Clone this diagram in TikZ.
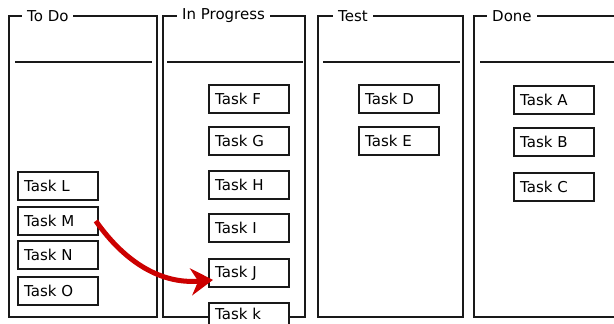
\documentclass[tikz,border=0pt]{standalone}
\usepackage{fontspec}
\setmainfont{DejaVu Sans}
\usetikzlibrary{arrows.meta}
\definecolor{arrowred}{RGB}{204,0,0}
\tikzset{
  frame/.style={draw=black!90, line width=1.8pt},
  divider/.style={draw=black!90, line width=1.8pt},
  colhead/.style={fill=white, inner xsep=5pt, inner ysep=2pt, font=\fontsize{15}{17}\selectfont, anchor=west},
  task/.style={draw=black!90, line width=1.8pt, minimum width=80pt, minimum height=28pt, anchor=north west},
  taskin/.style={anchor=west, inner sep=0pt, font=\fontsize{15}{17}\selectfont},
  move/.style={draw=arrowred, line width=5pt, -{Stealth[length=22pt,width=27pt]}}
}
\newcommand{\tasknode}[4]{% name, x, y, text
  \node[task] (#1) at (#2,#3) {};
  \node[taskin] (#1t) at ([xshift=7pt]#1.west) {#4};
}
\begin{document}
\begin{tikzpicture}[x=1pt,y=-1pt]
\useasboundingbox (0,0) rectangle (614,324);
\clip (0,0) rectangle (614,324);
% columns
\draw[frame] (9,16) rectangle (157,317);
\draw[divider] (15,62) -- (152,62);
\node[colhead] (todo) at (22,16) {To Do};
\draw[frame] (163,16) rectangle (305,317);
\draw[divider] (167,62) -- (303,62);
\node[colhead] (inprog) at (177,16) {In Progress};
\draw[frame] (318,16) rectangle (463,317);
\draw[divider] (323,62) -- (460,62);
\node[colhead] (test) at (333,16) {Test};
\draw[frame] (474,16) rectangle (640,317);
\draw[divider] (480,62) -- (640,62);
\node[colhead] (done) at (487,16) {Done};
% tasks: In Progress
\tasknode{F}{208}{84}{Task F}
\tasknode{G}{208}{126}{Task G}
\tasknode{H}{208}{170}{Task H}
\tasknode{I}{208}{213}{Task I}
\tasknode{J}{208}{258}{Task J}
\node[task, fill=white] (K) at (208,302) {};
\node[taskin] (Kt) at (215,314) {Task k};
% To Do
\tasknode{L}{17}{171}{Task L}
\tasknode{M}{17}{206}{Task M}
\tasknode{N}{17}{240}{Task N}
\tasknode{O}{17}{276}{Task O}
% Test
\tasknode{D}{358}{84}{Task D}
\tasknode{E}{358}{126}{Task E}
% Done
\tasknode{A}{513}{85}{Task A}
\tasknode{B}{513}{127}{Task B}
\tasknode{C}{513}{172}{Task C}
% move arrow
\draw[move] ([xshift=-3pt]M.east) to[out=-55,in=185] ([xshift=5pt,yshift=-7pt]J.west);
\end{tikzpicture}
\end{document}
